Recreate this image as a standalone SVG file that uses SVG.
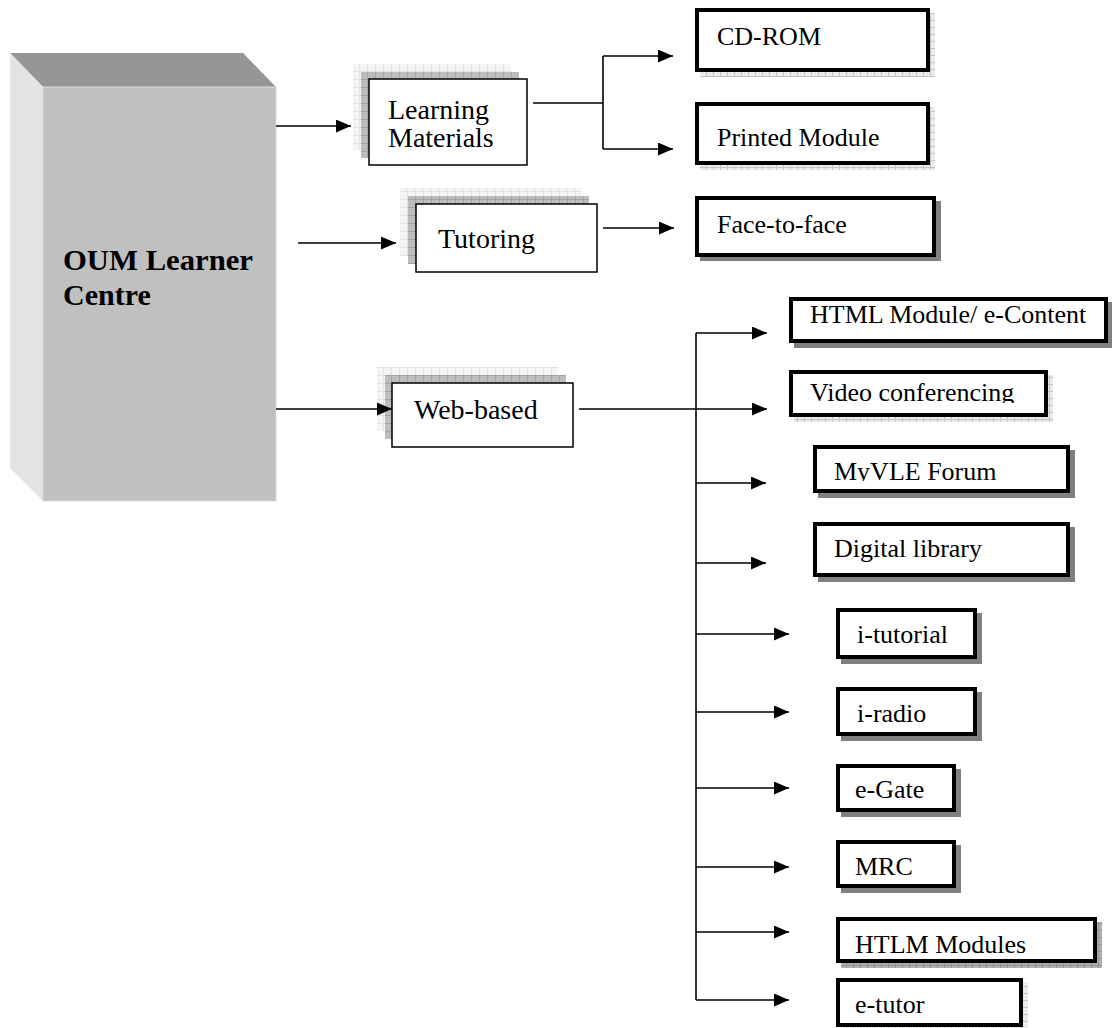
<svg xmlns="http://www.w3.org/2000/svg" width="1112" height="1028" viewBox="0 0 1112 1028">
<defs>
<style>
.t{font-family:"Liberation Serif","Times New Roman",serif;fill:#000}
.mid{font-size:28px}
.leaf{font-size:26px}
.box{fill:#fff;stroke:#000;stroke-width:4}
.front{fill:#fff;stroke:#000;stroke-width:1.5}
.sd{fill:#808080}
.sl{fill:url(#gl)}
.sm{fill:url(#gm)}
.c{fill:none;stroke:#000;stroke-width:1.6}
.a{fill:none;stroke:#000;stroke-width:1.6;marker-end:url(#ah)}
</style>
<pattern id="gl" width="7" height="7" patternUnits="userSpaceOnUse"><rect width="7" height="7" fill="#ececec"/><path d="M6.5 0V7M0 6.5H7" stroke="#c4c4c4" stroke-width="1"/></pattern>
<pattern id="gm" width="7" height="7" patternUnits="userSpaceOnUse"><rect width="7" height="7" fill="#b0b0b0"/><path d="M6.5 0V7M0 6.5H7" stroke="#949494" stroke-width="1"/></pattern>
<pattern id="lb" width="8" height="8" patternUnits="userSpaceOnUse"><rect width="8" height="8" fill="#f4f4f4"/><path d="M7.5 0V8M0 7.5H8" stroke="#e2e2e2" stroke-width="1"/></pattern>
<pattern id="db" width="8" height="8" patternUnits="userSpaceOnUse"><rect width="8" height="8" fill="#bdbdbd"/><path d="M7.5 0V8M0 7.5H8" stroke="#a4a4a4" stroke-width="1"/></pattern>
<marker id="ah" markerWidth="15" markerHeight="13" refX="15" refY="6.5" orient="auto" markerUnits="userSpaceOnUse"><path d="M0,0 L15,6.5 L0,13 z" fill="#000"/></marker>
<clipPath id="cv"><rect x="791" y="372" width="255" height="31"/></clipPath>
<clipPath id="cm"><rect x="815" y="447" width="253" height="34"/></clipPath>
</defs>

<g id="oum">
<polygon points="10,53 243,53 276,87 43,87" fill="#969696"/>
<polygon points="10,53 43,87 43,501 10,468" fill="#e3e3e3"/>
<rect x="43" y="87" width="233" height="414" fill="#c0c0c0" stroke="#dadada" stroke-width="1"/>
<text class="t" x="63" y="270" font-size="30" font-weight="bold" textLength="190" lengthAdjust="spacingAndGlyphs">OUM Learner</text>
<text class="t" x="63" y="305" font-size="30" font-weight="bold">Centre</text>
</g>

<g id="learning">
<rect x="353" y="64" width="158" height="86" fill="url(#lb)"/>
<rect x="361" y="72" width="158" height="86" fill="url(#db)"/>
<rect class="front" x="369" y="79" width="158" height="86"/>
<text class="t mid" x="388" y="119">Learning</text>
<text class="t mid" x="388" y="147">Materials</text>
</g>

<g id="tutoring">
<rect x="400" y="188" width="181" height="68" fill="url(#lb)"/>
<rect x="408" y="196" width="181" height="68" fill="url(#db)"/>
<rect class="front" x="416" y="204" width="181" height="68"/>
<text class="t mid" x="438" y="248">Tutoring</text>
</g>

<g id="webbased">
<rect x="377" y="367" width="181" height="64" fill="url(#lb)"/>
<rect x="385" y="375" width="181" height="64" fill="url(#db)"/>
<rect class="front" x="392" y="383" width="181" height="64"/>
<text class="t mid" x="414" y="419">Web-based</text>
</g>

<g id="cdrom">
<rect class="sl" x="700" y="13" width="235" height="64"/>
<rect class="box" x="697" y="10" width="231" height="60"/>
<text class="t leaf" x="717" y="45">CD-ROM</text>
</g>

<g id="printed">
<rect class="sl" x="700" y="107" width="235" height="63"/>
<rect class="box" x="697" y="104" width="231" height="59"/>
<text class="t leaf" x="717" y="146">Printed Module</text>
</g>

<g id="face">
<rect class="sd" x="700" y="201" width="241" height="60"/>
<rect class="box" x="697" y="198" width="237" height="57"/>
<text class="t leaf" x="717" y="233">Face-to-face</text>
</g>

<g id="html">
<rect class="sd" x="794" y="302" width="318" height="46"/>
<rect class="box" x="791" y="299" width="315" height="42"/>
<text class="t leaf" x="810" y="323">HTML Module/ e-Content</text>
</g>

<g id="video">
<rect class="sl" x="794" y="375" width="259" height="47"/>
<rect class="box" x="791" y="372" width="255" height="43"/>
<text class="t leaf" x="810" y="401" clip-path="url(#cv)">Video conferencing</text>
</g>

<g id="myvle">
<rect class="sd" x="818" y="450" width="257" height="48"/>
<rect class="box" x="815" y="447" width="253" height="44"/>
<text class="t leaf" x="834" y="480" clip-path="url(#cm)">MyVLE Forum</text>
</g>

<g id="digital">
<rect class="sd" x="818" y="527" width="257" height="55"/>
<rect class="box" x="815" y="524" width="253" height="51"/>
<text class="t leaf" x="834" y="557">Digital library</text>
</g>

<g id="itutorial">
<rect class="sd" x="841" y="613" width="141" height="51"/>
<rect class="box" x="838" y="610" width="137" height="47"/>
<text class="t leaf" x="857" y="643">i-tutorial</text>
</g>

<g id="iradio">
<rect class="sd" x="841" y="692" width="141" height="49"/>
<rect class="box" x="838" y="689" width="137" height="45"/>
<text class="t leaf" x="857" y="722">i-radio</text>
</g>

<g id="egate">
<rect class="sd" x="841" y="769" width="120" height="48"/>
<rect class="box" x="838" y="766" width="116" height="44"/>
<text class="t leaf" x="855" y="798">e-Gate</text>
</g>

<g id="mrc">
<rect class="sd" x="841" y="845" width="120" height="48"/>
<rect class="box" x="838" y="842" width="116" height="44"/>
<text class="t leaf" x="855" y="875">MRC</text>
</g>

<g id="htlm">
<rect class="sm" x="841" y="922" width="261" height="46"/>
<rect class="box" x="838" y="919" width="257" height="42"/>
<text class="t leaf" x="855" y="953">HTLM Modules</text>
</g>

<g id="etutor">
<rect class="sl" x="841" y="983" width="187" height="45"/>
<rect class="box" x="838" y="980" width="183" height="45"/>
<text class="t leaf" x="855" y="1013">e-tutor</text>
</g>

<g id="connectors">
<path class="a" d="M276 126 H351"/>
<path class="a" d="M298 243 H396"/>
<path class="a" d="M276 409 H392"/>
<path class="c" d="M533 103 H603 M603 56 V149"/>
<path class="a" d="M603 56 H673"/>
<path class="a" d="M603 149 H673"/>
<path class="a" d="M603 228 H674"/>
<path class="c" d="M696 333 V1000"/>
<path class="a" d="M579 409 H767"/>
<path class="a" d="M696 333 H767"/>
<path class="a" d="M696 483 H766"/>
<path class="a" d="M696 563 H766"/>
<path class="a" d="M696 634 H789"/>
<path class="a" d="M696 712 H789"/>
<path class="a" d="M696 788 H789"/>
<path class="a" d="M696 867 H789"/>
<path class="a" d="M696 932 H789"/>
<path class="a" d="M696 1000 H789"/>
</g>
</svg>
